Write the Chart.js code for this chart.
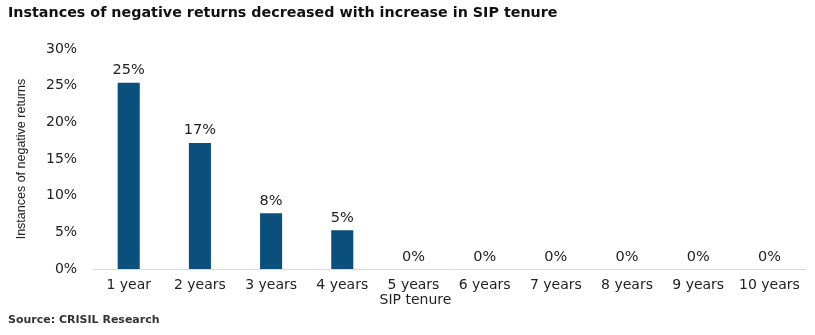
<!DOCTYPE html>
<html>
<head>
<meta charset="utf-8">
<script src="https://cdn.jsdelivr.net/npm/chart.js@4"></script>
<style>
  html, body { margin: 0; padding: 0; background: #fff; }
  #wrap { width: 815px; height: 335px; position: relative; }
</style>
</head>
<body>
<div id="wrap"><canvas id="sipChart"></canvas></div>
<script>
// 数据
const tenures = ['1 year', '2 years', '3 years', '4 years', '5 years', '6 years', '7 years', '8 years', '9 years', '10 years'];
const negativeShare = [25.4, 17.2, 7.6, 5.3, 0, 0, 0, 0, 0, 0];
const yTicks = [0, 5, 10, 15, 20, 25, 30];
const xAxisTitle = 'SIP tenure';

const barColor = '#0b4f7c';
const textColor = '#222222';
const mainFont = "'DejaVu Sans', sans-serif";

// 柱顶标签 + x 轴标题
const barLabels = {
    id: 'barLabels',
    afterDatasetsDraw(chart) {
        const ctx = chart.ctx;
        const meta = chart.getDatasetMeta(0);
        ctx.save();
        ctx.font = "14.5px " + mainFont;
        ctx.fillStyle = textColor;
        ctx.textAlign = 'center';
        ctx.textBaseline = 'bottom';
        meta.data.forEach((bar, i) => {
            ctx.fillText(Math.round(negativeShare[i]) + '%', bar.x, bar.y - 5);
        });
        // x 轴标题
        ctx.font = "14px " + mainFont;
        ctx.textBaseline = 'middle';
        ctx.fillText(xAxisTitle, chart.width / 2 + 8, chart.chartArea.bottom + 31);
        ctx.restore();
    }
};

new Chart(document.getElementById('sipChart').getContext('2d'), {
    type: 'bar',
    data: {
        labels: tenures,
        datasets: [{
            data: negativeShare,
            backgroundColor: barColor,
            categoryPercentage: 1.0,
            barPercentage: 0.31
        }]
    },
    options: {
        responsive: true,
        maintainAspectRatio: false,
        animation: false,
        layout: { padding: { left: 8, right: 10, top: 0, bottom: 0 } },
        plugins: {
            legend: { display: false },
            tooltip: { enabled: false },
            title: {
                display: true,
                text: 'Instances of negative returns decreased with increase in SIP tenure',
                align: 'start',
                color: '#111',
                font: { family: mainFont, size: 14.3, weight: 'bold' },
                padding: { top: 5, bottom: 27 }
            },
            subtitle: {
                display: true,
                position: 'bottom',
                text: 'Source: CRISIL Research',
                align: 'start',
                color: '#333',
                font: { family: mainFont, size: 11, weight: 'bold' },
                padding: { top: 12, bottom: 8 }
            }
        },
        scales: {
            x: {
                grid: { display: false, drawTicks: false },
                border: { display: true, color: '#d9d9d9', width: 1 },
                ticks: { color: textColor, font: { family: mainFont, size: 14 }, padding: 8, maxRotation: 0, autoSkip: false }
            },
            y: {
                min: 0,
                max: 30,
                grid: { display: false, drawTicks: false },
                border: { display: false },
                afterBuildTicks(axis) {
                    axis.ticks = yTicks.map(v => ({ value: v }));
                },
                ticks: {
                    color: textColor,
                    font: { family: mainFont, size: 14 },
                    padding: 16,
                    callback: v => v + '%'
                },
                title: {
                    display: true,
                    text: 'Instances of negative returns',
                    color: textColor,
                    font: { family: "'Liberation Sans Narrow', 'Liberation Sans', sans-serif", size: 12.5 },
                    padding: { top: 6, bottom: 1 }
                }
            }
        }
    },
    plugins: [barLabels]
});
</script>
</body>
</html>
